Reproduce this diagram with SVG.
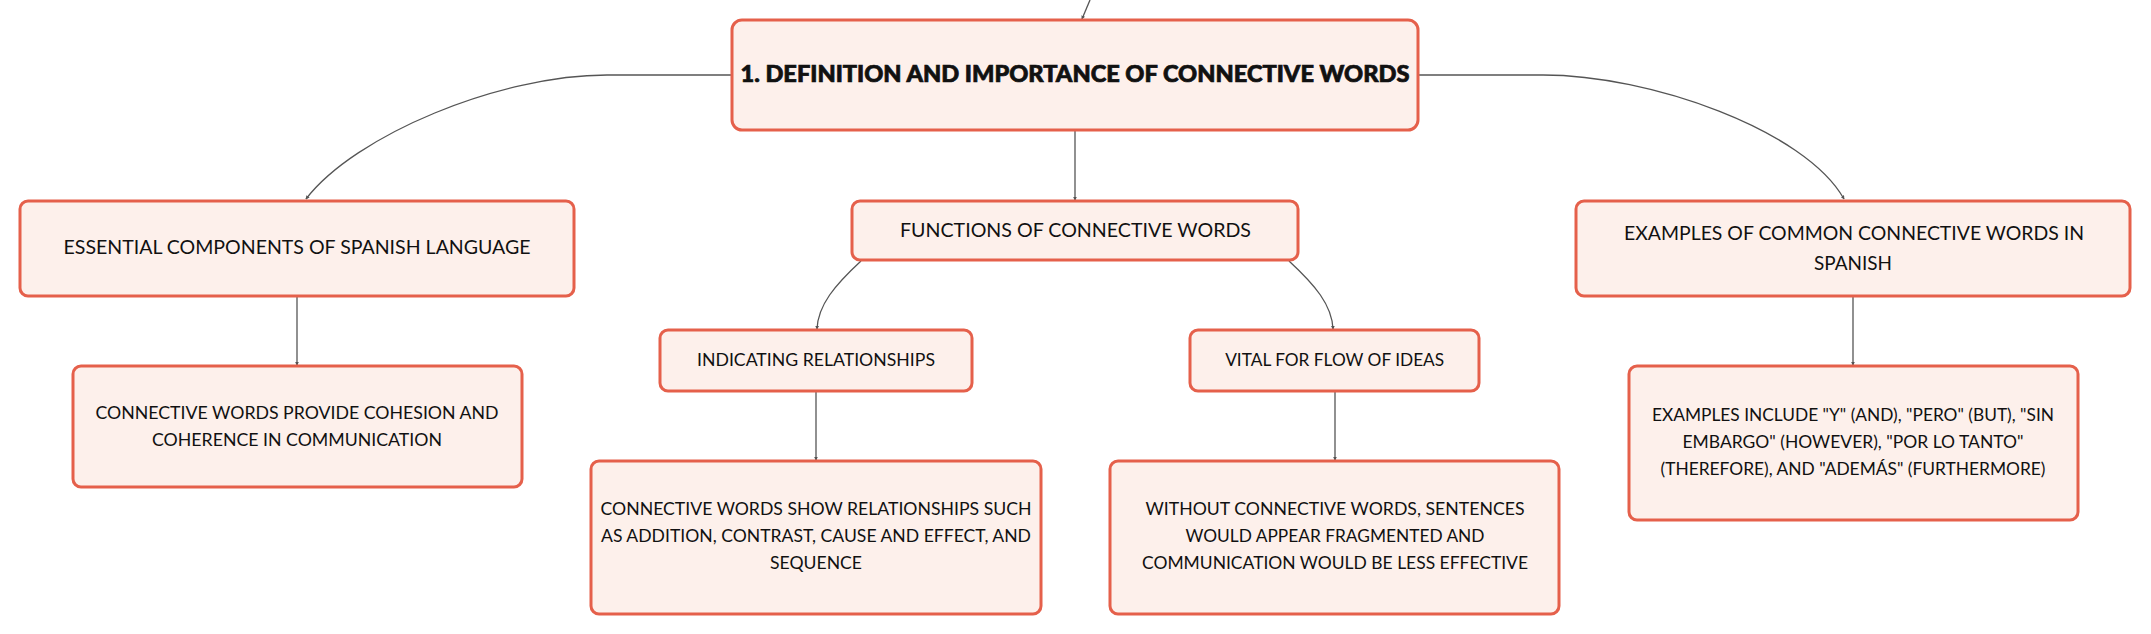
<svg xmlns="http://www.w3.org/2000/svg" width="2151" height="634" viewBox="0 0 2151 634">
<defs>
<marker id="tip" viewBox="0 0 6 6" refX="5" refY="3" markerWidth="4" markerHeight="4" orient="auto" markerUnits="userSpaceOnUse">
<path d="M0,0 L6,3 L0,6 z" fill="#555"/>
</marker>
</defs>
<style>
.node rect { fill: #FDF0EB; stroke: #E5604B; stroke-width: 3; }
.conn path { fill: none; stroke: #555; stroke-width: 1.3; }
text { font-family: Lato, "Noto Sans", "Liberation Sans", sans-serif; fill: #111; text-anchor: middle; }
.t0 { font-size: 22px; font-weight: 900; stroke: #111; stroke-width: 0.7; }
.t1 { font-size: 19px; }
.t2 { font-size: 17.5px; }
</style>
<rect width="2151" height="634" fill="#ffffff"/>
<g class="conn" id="connectors">
<path d="M1090,0 L1082,19" marker-end="url(#tip)"/>
<path d="M732,75 H607 C500,75 355,135 306,199" marker-end="url(#tip)"/>
<path d="M1418,75 H1543 C1650,75 1805,130 1844,199" marker-end="url(#tip)"/>
<path d="M1075,131 V200" marker-end="url(#tip)"/>
<path d="M861,261 C835,285 818,305 817,329" marker-end="url(#tip)"/>
<path d="M1289,261 C1315,285 1332,305 1333,329" marker-end="url(#tip)"/>
<path d="M297,297 V365" marker-end="url(#tip)"/>
<path d="M816,391 V460" marker-end="url(#tip)"/>
<path d="M1335,391 V460" marker-end="url(#tip)"/>
<path d="M1853,297 V365" marker-end="url(#tip)"/>
</g>
<g class="node" id="main">
<rect x="732" y="20" width="686" height="110" rx="10"/>
<text class="t0" x="1075" y="82" textLength="669" lengthAdjust="spacingAndGlyphs">1. DEFINITION AND IMPORTANCE OF CONNECTIVE WORDS</text>
</g>
<g class="node" id="essential">
<rect x="20" y="201" width="554" height="95" rx="8"/>
<text class="t1" x="297" y="254" textLength="467" lengthAdjust="spacingAndGlyphs">ESSENTIAL COMPONENTS OF SPANISH LANGUAGE</text>
</g>
<g class="node" id="essential-detail">
<rect x="73" y="366" width="449" height="121" rx="8"/>
<text class="t2" x="297" y="419" textLength="403" lengthAdjust="spacingAndGlyphs">CONNECTIVE WORDS PROVIDE COHESION AND</text>
<text class="t2" x="297" y="446" textLength="290" lengthAdjust="spacingAndGlyphs">COHERENCE IN COMMUNICATION</text>
</g>
<g class="node" id="functions">
<rect x="852" y="201" width="446" height="59" rx="8"/>
<text class="t1" x="1075.5" y="237" textLength="351" lengthAdjust="spacingAndGlyphs">FUNCTIONS OF CONNECTIVE WORDS</text>
</g>
<g class="node" id="indicating">
<rect x="660" y="330" width="312" height="61" rx="8"/>
<text class="t2" x="816" y="366" textLength="238" lengthAdjust="spacingAndGlyphs">INDICATING RELATIONSHIPS</text>
</g>
<g class="node" id="indicating-detail">
<rect x="591" y="461" width="450" height="153" rx="8"/>
<text class="t2" x="816" y="515" textLength="431" lengthAdjust="spacingAndGlyphs">CONNECTIVE WORDS SHOW RELATIONSHIPS SUCH</text>
<text class="t2" x="816" y="542" textLength="430" lengthAdjust="spacingAndGlyphs">AS ADDITION, CONTRAST, CAUSE AND EFFECT, AND</text>
<text class="t2" x="816" y="569" textLength="92" lengthAdjust="spacingAndGlyphs">SEQUENCE</text>
</g>
<g class="node" id="vital">
<rect x="1190" y="330" width="289" height="61" rx="8"/>
<text class="t2" x="1334.7" y="366" textLength="219" lengthAdjust="spacingAndGlyphs">VITAL FOR FLOW OF IDEAS</text>
</g>
<g class="node" id="vital-detail">
<rect x="1110" y="461" width="449" height="153" rx="8"/>
<text class="t2" x="1335" y="515" textLength="379" lengthAdjust="spacingAndGlyphs">WITHOUT CONNECTIVE WORDS, SENTENCES</text>
<text class="t2" x="1335" y="542" textLength="299" lengthAdjust="spacingAndGlyphs">WOULD APPEAR FRAGMENTED AND</text>
<text class="t2" x="1335" y="569" textLength="386" lengthAdjust="spacingAndGlyphs">COMMUNICATION WOULD BE LESS EFFECTIVE</text>
</g>
<g class="node" id="examples">
<rect x="1576" y="201" width="554" height="95" rx="8"/>
<text class="t1" x="1854" y="240" textLength="460" lengthAdjust="spacingAndGlyphs">EXAMPLES OF COMMON CONNECTIVE WORDS IN</text>
<text class="t1" x="1853" y="270" textLength="78" lengthAdjust="spacingAndGlyphs">SPANISH</text>
</g>
<g class="node" id="examples-detail">
<rect x="1629" y="366" width="449" height="154" rx="8"/>
<text class="t2" x="1853" y="421" textLength="402" lengthAdjust="spacingAndGlyphs">EXAMPLES INCLUDE "Y" (AND), "PERO" (BUT), "SIN</text>
<text class="t2" x="1853" y="448" textLength="341" lengthAdjust="spacingAndGlyphs">EMBARGO" (HOWEVER), "POR LO TANTO"</text>
<text class="t2" x="1853" y="475" textLength="385" lengthAdjust="spacingAndGlyphs">(THEREFORE), AND "ADEMÁS" (FURTHERMORE)</text>
</g>
</svg>
